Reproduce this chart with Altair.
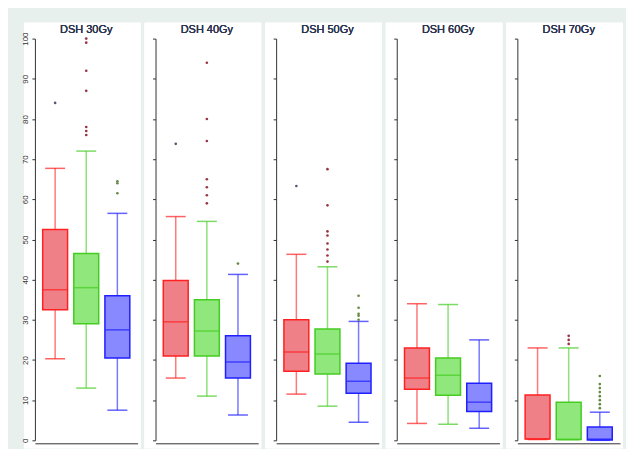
import altair as alt
import pandas as pd

panels = ["DSH 30Gy", "DSH 40Gy", "DSH 50Gy", "DSH 60Gy", "DSH 70Gy"]
groups = ["A", "B", "C"]
# per panel, per group: low, q1, median, q3, high
stats = [
    [[20.3, 32.5, 37.5, 52.5, 67.7], [13, 29, 38, 46.5, 72], [7.5, 20.5, 27.5, 36, 56.5]],
    [[15.5, 21, 29.5, 39.8, 55.7], [11, 21, 27.2, 35, 54.5], [6.3, 15.5, 19.5, 26, 41.3]],
    [[11.5, 17.2, 22, 30, 46.3], [8.5, 16.5, 21.5, 27.7, 43.2], [4.5, 11.7, 14.7, 19.2, 29.6]],
    [[4.2, 12.7, 15.5, 23, 34], [4, 11.2, 16.2, 20.5, 33.8], [3, 7.2, 9.5, 14.2, 25]],
    [[0.2, 0.3, 0.3, 11.3, 23], [0.2, 0.2, 0.2, 9.5, 23], [0, 0.1, 0.3, 3.3, 7]],
]
outliers = [
    [[84], [76, 77, 78, 87, 92, 99, 100], [61.5, 64, 64.5]],
    [[73.8], [59, 61, 63, 65, 74.5, 80, 94], [44]],
    [[63.3], [44.5, 46, 47.5, 49, 51, 52, 58.5, 67.5], [30, 31, 31.5, 33, 36]],
    [[], [], []],
    [[], [24, 25, 26], [8, 9, 10, 11, 12, 13, 14, 16]],
]
stroke = ["#ff2020", "#44cc22", "#2020ff"]
fill = ["#f08088", "#90e87c", "#8888ff"]
ocol = ["#555577", "#993344", "#668844"]

W, H = 103, 403
xsc = alt.Scale(domain=groups, paddingInner=0.2, paddingOuter=0.25)
csc = alt.Scale(domain=groups, range=stroke)
fsc = alt.Scale(domain=groups, range=fill)
ysc = alt.Scale(domain=[0, 100], nice=False)

def panel(i):
    rows = [dict(g=g, low=s[0], q1=s[1], med=s[2], q3=s[3], high=s[4]) for g, s in zip(groups, stats[i])]
    df = pd.DataFrame(rows)
    first = i == 0
    yax = alt.Axis(title=None, labels=first, labelAngle=-90, labelAlign="center", labelBaseline="bottom",
                   labelFontSize=8, labelColor="#333", grid=False, tickSize=3, tickColor="#333",
                   domainColor="#333", values=list(range(0, 101, 10)), labelPadding=2, zindex=2)
    xax = alt.Axis(title=None, labels=False, ticks=False, domainColor="#333", offset=3, zindex=2)
    base = alt.Chart(df)
    col = alt.Color("g:N", scale=csc, legend=None)
    bg = base.mark_rect(fill="white").encode(x=alt.value(-11), x2=alt.value(W + 3),
                                                y=alt.value(-16), y2=alt.value(H + 8))
    title = base.mark_text(text=panels[i], fontSize=11, fontWeight="normal", color="#2c3450",
                           font="Liberation Sans").encode(x=alt.value(W / 2), y=alt.value(-9))
    x = alt.X("g:N", scale=xsc, axis=xax)
    wh = base.mark_rule(opacity=0.6, strokeWidth=1.5).encode(
        x=x, y=alt.Y("low:Q", scale=ysc, axis=yax), y2="high:Q", color=col)
    caps_lo = base.mark_tick(size=20, thickness=1.5).encode(x=x, y=alt.Y("low:Q", scale=ysc), color=col)
    caps_hi = base.mark_tick(size=20, thickness=1.5).encode(x=x, y=alt.Y("high:Q", scale=ysc), color=col)
    box = base.mark_bar(strokeWidth=1.5).encode(
        x=x, y=alt.Y("q1:Q", scale=ysc), y2="q3:Q",
        fill=alt.Fill("g:N", scale=fsc, legend=None),
        stroke=alt.Stroke("g:N", scale=csc, legend=None))
    med = base.mark_tick(size=24, thickness=1.5).encode(x=x, y=alt.Y("med:Q", scale=ysc), color=col)
    layers = [bg, title, wh, caps_lo, caps_hi, box, med]
    for g, vs, c in zip(groups, outliers[i], ocol):
        if vs:
            odf = pd.DataFrame(dict(g=[g] * len(vs), v=vs))
            layers.append(alt.Chart(odf).mark_circle(size=7, opacity=1, color=c).encode(
                x=x, y=alt.Y("v:Q", scale=ysc)))
    return alt.layer(*layers).properties(width=W, height=H)

chart = alt.hconcat(*[panel(i) for i in range(5)], spacing=4).properties(
    background="#e8f0ee", padding={"left": 14, "top": 14, "right": 3, "bottom": 0}
).configure_view(stroke=None).configure_concat(spacing=4)

chart.save("out.html", embed_options={"renderer": "svg", "actions": False})
